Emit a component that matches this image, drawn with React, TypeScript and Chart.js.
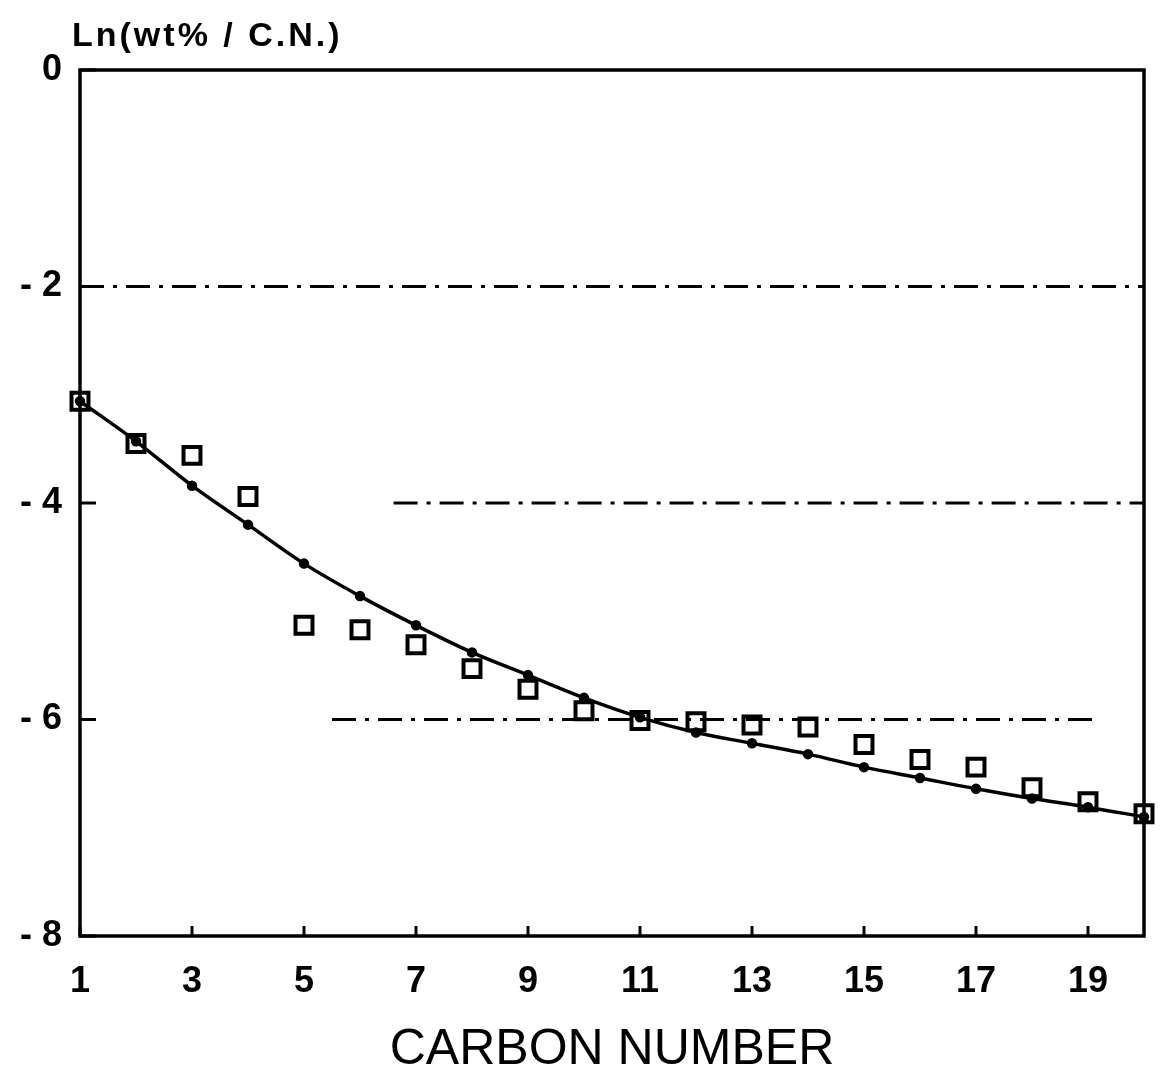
import React, { useEffect, useRef } from 'react';
import { Chart, registerables } from 'chart.js';

Chart.register(...registerables);

const carbonNumbers = [1, 2, 3, 4, 5, 6, 7, 8, 9, 10, 11, 12, 13, 14, 15, 16, 17, 18, 19, 20];
const measuredLn = [-3.06, -3.45, -3.56, -3.94, -5.13, -5.17, -5.31, -5.53, -5.72, -5.92, -6.01, -6.02, -6.05, -6.07, -6.23, -6.37, -6.44, -6.63, -6.76, -6.87];
const fittedLn = [-3.06, -3.43, -3.84, -4.2, -4.56, -4.86, -5.13, -5.38, -5.59, -5.8, -5.98, -6.12, -6.22, -6.32, -6.44, -6.54, -6.64, -6.73, -6.81, -6.9];
const xTickValues = [1, 3, 5, 7, 9, 11, 13, 15, 17, 19];
const yTickValues = [0, -2, -4, -6, -8];
const refLevels = [-2, -4, -6];
const refStarts = [1, 6.6, 5.5];
const refEnds = [20, 20, 19.2];
const xTitle = 'CARBON NUMBER';
const yTitle = 'Ln(wt% / C.N.)';

const FONT = "'Liberation Sans', Arial, Helvetica, sans-serif";

export default function App() {
  const ref = useRef<HTMLCanvasElement>(null);

  useEffect(() => {
    document.body.style.margin = '0';
    const canvas = ref.current;
    if (!canvas) return;

    const framePlugin = {
      id: 'framePlugin',
      afterDraw(chart: any) {
        const { ctx, chartArea } = chart;
        const xs = chart.scales.x;
        const ys = chart.scales.y;
        ctx.save();
        ctx.strokeStyle = '#000';
        ctx.lineWidth = 3.5;
        ctx.strokeRect(chartArea.left, chartArea.top, chartArea.right - chartArea.left, chartArea.bottom - chartArea.top);
        ctx.lineWidth = 3;
        ctx.beginPath();
        yTickValues.forEach((v) => {
          const py = ys.getPixelForValue(v);
          ctx.moveTo(chartArea.left, py);
          ctx.lineTo(chartArea.left + 16, py);
        });
        xTickValues.forEach((v) => {
          const px = xs.getPixelForValue(v);
          ctx.moveTo(px, chartArea.bottom);
          ctx.lineTo(px, chartArea.bottom - 10);
        });
        ctx.stroke();
        ctx.fillStyle = '#000';
        ctx.font = `bold 34px ${FONT}`;
        ctx.textBaseline = 'middle';
        ctx.textAlign = 'left';
        try { (ctx as any).letterSpacing = '3px'; } catch (e) {}
        ctx.fillText(yTitle, chartArea.left - 8, chartArea.top - 33);
        ctx.restore();
      },
    };

    const refDatasets = refLevels.map((lvl, i) => ({
      type: 'line' as const,
      data: [
        { x: refStarts[i], y: lvl },
        { x: refEnds[i], y: lvl },
      ],
      borderColor: '#000',
      borderWidth: 3,
      borderDash: [24, 9, 4, 9],
      pointRadius: 0,
      fill: false,
      order: 3,
    }));

    const chart = new Chart(canvas, {
      type: 'scatter',
      data: {
        datasets: [
          ...refDatasets,
          {
            type: 'line' as const,
            data: carbonNumbers.map((c, i) => ({ x: c, y: fittedLn[i] })),
            borderColor: '#000',
            borderWidth: 3.5,
            pointRadius: 3.5,
            pointBackgroundColor: '#000',
            pointBorderColor: '#000',
            cubicInterpolationMode: 'monotone',
            fill: false,
            clip: false,
            order: 2,
          },
          {
            type: 'scatter' as const,
            data: carbonNumbers.map((c, i) => ({ x: c, y: measuredLn[i] })),
            pointStyle: 'rect',
            pointRadius: 12,
            borderWidth: 4,
            borderColor: '#000',
            backgroundColor: 'rgba(0,0,0,0)',
            clip: false,
            order: 1,
          } as any,
        ],
      },
      options: {
        animation: false,
        responsive: false,
        maintainAspectRatio: false,
        layout: { padding: { top: 70, right: 19, left: 0, bottom: 0 } },
        plugins: { legend: { display: false }, tooltip: { enabled: false } },
        scales: {
          x: {
            type: 'linear',
            min: 1,
            max: 20,
            afterBuildTicks: (scale: any) => {
              scale.ticks = xTickValues.map((v) => ({ value: v }));
            },
            afterFit: (scale: any) => {
              scale.height = 152;
            },
            grid: { display: false, drawTicks: false },
            border: { display: false },
            ticks: {
              autoSkip: false,
              maxRotation: 0,
              padding: 24,
              color: '#000',
              font: { family: FONT, size: 36, weight: 'bold' },
              callback: (v: any) => String(v),
            },
            title: {
              display: true,
              text: xTitle,
              color: '#000',
              font: { family: FONT, size: 50, weight: 'normal' },
              padding: { top: 0, bottom: 8 },
            },
          },
          y: {
            type: 'linear',
            min: -8,
            max: 0,
            afterBuildTicks: (scale: any) => {
              scale.ticks = yTickValues.map((v) => ({ value: v }));
            },
            afterFit: (scale: any) => {
              scale.width = 80;
            },
            grid: { display: false, drawTicks: false },
            border: { display: false },
            ticks: {
              padding: 18,
              color: '#000',
              font: { family: FONT, size: 36, weight: 'bold' },
              callback: (v: any) => (v === 0 ? '0' : '- ' + Math.abs(v)),
            },
          },
        },
      },
      plugins: [framePlugin],
    } as any);

    return () => chart.destroy();
  }, []);

  return (
    <canvas
      ref={ref}
      width={1163}
      height={1088}
      style={{ display: 'block', width: '1163px', height: '1088px' }}
    />
  );
}
